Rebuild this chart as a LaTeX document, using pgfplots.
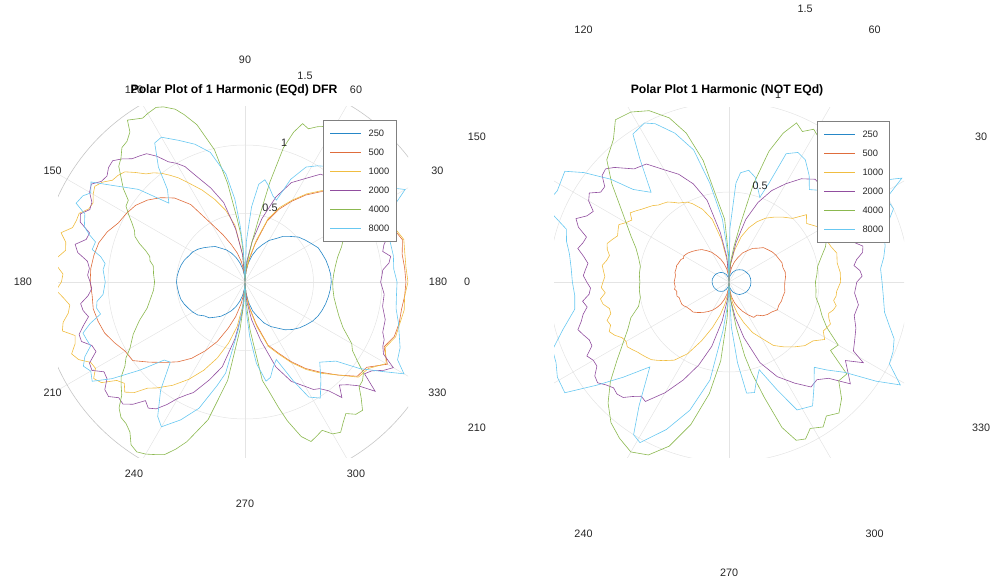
\documentclass[border=0pt]{standalone}
\usepackage{pgfplots}
\pgfplotsset{compat=1.18}
\usepackage{fontspec}
\setmainfont{Liberation Sans}

\definecolor{c250}{HTML}{0072BD}
\definecolor{c500}{HTML}{D95319}
\definecolor{c1k}{HTML}{EDB120}
\definecolor{c2k}{HTML}{7E2F8E}
\definecolor{c4k}{HTML}{77AC30}
\definecolor{c8k}{HTML}{4DBEEE}
\definecolor{gridc}{HTML}{E4E4E4}
\definecolor{rimc}{HTML}{C6C6C6}
\definecolor{txt}{HTML}{262626}

\newcommand\tickfont{\fontsize{10.8}{12}\selectfont}
\newcommand\titlefont{\fontsize{12.2}{14}\selectfont\bfseries}

\pgfplotsset{
  polarpanel/.style={
    scale only axis, width=350pt, height=350pt,
    anchor=south west, hide axis, clip=true,
    data cs=polar,
    legend cell align=left,
    legend image code/.code={\draw[##1,line width=0.9pt] (0pt,0pt) -- (31pt,0pt);},
    legend style={anchor=north west, draw=black!50, line width=0.5pt, fill=white,
      inner xsep=6.5pt, inner ysep=9.6pt, row sep=12.3pt, column sep=7pt,
      font=\fontsize{9.3}{10}\selectfont, text=txt,
      nodes={inner sep=0pt, text height=6.7pt, text depth=0pt}},
  },
  trace/.style={color=#1!85, line width=0.6pt, no markers},
}

\begin{document}
\begin{tikzpicture}
\useasboundingbox (0pt,0pt) rectangle (993pt,584pt);
\clip (0pt,0pt) rectangle (993pt,584pt);

% ---------------- left panel: equalised DFR ----------------
\begin{axis}[polarpanel, at={(58pt,127pt)},
  xmin=-1.365, xmax=1.190, ymin=-1.277, ymax=1.277,
  legend style={at={(0.757,0.963)}}]
  % polar grid
  \draw[gridc, line width=0.5pt] (axis cs:0,0) circle[radius=68.5pt];
  \draw[gridc, line width=0.5pt] (axis cs:0,0) circle[radius=137pt];
  \draw[rimc, line width=0.6pt] (axis cs:0,0) circle[radius=205.5pt];
  \draw[gridc, line width=0.5pt] (axis cs:-3,0) -- (axis cs:3,0);
  \draw[gridc, line width=0.5pt] (axis cs:0,-3) -- (axis cs:0,3);
  \draw[gridc, line width=0.5pt] (axis cs:-2.598,-1.5) -- (axis cs:2.598,1.5);
  \draw[gridc, line width=0.5pt] (axis cs:-1.5,-2.598) -- (axis cs:1.5,2.598);
  \draw[gridc, line width=0.5pt] (axis cs:1.5,-2.598) -- (axis cs:-1.5,2.598);
  \draw[gridc, line width=0.5pt] (axis cs:2.598,-1.5) -- (axis cs:-2.598,1.5);

  \addplot[trace=c250] coordinates {(0,.63)(5,.628)(10,.62)(15,.612)(20,.60)(25,.59)(30,.56)(35,.535)(40,.51)(45,.47)(50,.435)(55,.385)(60,.35)(65,.30)(70,.255)(75,.20)(80,.14)(85,.075)(90,.005)(95,.05)(100,.10)(105,.145)(110,.19)(115,.232)(120,.27)(125,.30)(130,.338)(135,.362)(140,.39)(145,.418)(150,.44)(155,.452)(160,.47)(165,.482)(170,.49)(175,.497)(180,.50)(185,.495)(190,.49)(195,.485)(200,.472)(205,.455)(210,.44)(215,.42)(220,.385)(225,.37)(230,.335)(235,.305)(240,.265)(245,.23)(250,.19)(255,.145)(260,.10)(265,.05)(270,.005)(275,.075)(280,.15)(285,.22)(290,.27)(295,.33)(300,.375)(305,.41)(310,.455)(315,.49)(320,.52)(325,.545)(330,.57)(335,.588)(340,.60)(345,.61)(350,.618)(355,.625)(360,.63)};
  \addplot[trace=c500] coordinates {(0,1.175)(5,1.17)(10,1.165)(15,1.19)(20,1.15)(25,1.13)(30,1.095)(35,1.06)(40,1.0)(45,.935)(50,.86)(55,.775)(60,.68)(65,.585)(70,.475)(75,.29)(80,.16)(85,.075)(90,.005)(95,.07)(100,.15)(105,.22)(110,.29)(115,.38)(120,.49)(125,.69)(130,.80)(135,.87)(140,.93)(145,.975)(150,1.0)(155,1.02)(160,1.07)(165,1.105)(170,1.12)(175,1.13)(180,1.13)(185,1.12)(190,1.125)(195,1.11)(200,1.09)(205,1.05)(210,1.01)(215,1.0)(220,.91)(225,.83)(230,.76)(235,.68)(240,.58)(245,.48)(250,.36)(255,.26)(260,.16)(265,.08)(270,.005)(275,.09)(280,.19)(285,.32)(290,.49)(295,.57)(300,.67)(305,.77)(310,.86)(315,.96)(320,1.07)(325,1.085)(330,1.20)(335,1.12)(340,1.16)(345,1.165)(350,1.16)(355,1.17)(360,1.175)};
  \addplot[trace=c1k] coordinates {(0,1.19)(5,1.18)(10,1.185)(15,1.20)(20,1.16)(25,1.14)(30,1.10)(35,1.07)(40,1.01)(45,.945)(50,.87)(55,.785)(60,.69)(65,.60)(70,.49)(75,.31)(80,.17)(85,.08)(90,.005)(95,.20)(100,.42)(105,.54)(110,.64)(115,.74)(120,.84)(122.5,.90)(125,.95)(127.5,1.0)(130,1.04)(132.5,1.07)(135,1.13)(137.5,1.19)(140,1.21)(142.5,1.22)(145,1.27)(147.5,1.30)(150,1.28)(152.5,1.25)(155,1.26)(157.5,1.31)(160,1.31)(162.5,1.32)(165,1.39)(167.5,1.34)(170,1.33)(172.5,1.38)(175,1.38)(177.5,1.33)(180,1.34)(182.5,1.38)(185,1.33)(187.5,1.29)(190,1.31)(192.5,1.36)(195,1.38)(197.5,1.30)(200,1.32)(202.5,1.37)(205,1.34)(207.5,1.27)(210,1.26)(212.5,1.31)(215,1.28)(217.5,1.18)(220,1.15)(222.5,1.19)(225,1.14)(227.5,1.05)(230,1.01)(235,.92)(240,.82)(245,.71)(250,.59)(255,.46)(260,.33)(265,.17)(270,.005)(275,.10)(280,.20)(285,.34)(290,.50)(295,.58)(300,.68)(305,.78)(310,.87)(315,.96)(320,1.08)(325,1.10)(330,1.19)(335,1.13)(340,1.17)(345,1.17)(350,1.18)(355,1.17)(360,1.19)};
  \addplot[trace=c2k] coordinates {(0,.99)(2.5,1.0)(5,1.01)(7.5,1.06)(10,1.08)(12.5,1.03)(15,1.05)(17.5,1.09)(20,1.08)(22.5,1.04)(25,1.05)(30,1.06)(35,1.03)(40,1.02)(45,1.0)(50,.99)(55,.96)(60,.87)(65,.80)(70,.66)(75,.48)(80,.30)(85,.15)(90,.005)(95,.20)(100,.39)(105,.60)(110,.73)(115,.86)(117.5,.95)(120,1.0)(122.5,1.04)(125,1.12)(127.5,1.18)(130,1.20)(132.5,1.22)(135,1.27)(137.5,1.31)(140,1.30)(142.5,1.27)(145,1.28)(147.5,1.33)(150,1.31)(152.5,1.26)(155,1.25)(157.5,1.30)(160,1.28)(162.5,1.19)(165,1.20)(167.5,1.27)(170,1.24)(172.5,1.16)(175,1.14)(177.5,1.15)(180,1.13)(182.5,1.12)(185,1.15)(187.5,1.21)(190,1.20)(192.5,1.17)(195,1.22)(197.5,1.27)(200,1.27)(202.5,1.21)(205,1.20)(207.5,1.28)(210,1.29)(212.5,1.22)(215,1.23)(217.5,1.29)(220,1.30)(222.5,1.25)(225,1.26)(227.5,1.21)(230,1.13)(232.5,1.16)(235,1.13)(237.5,1.06)(240,.98)(242.5,.93)(245,.89)(250,.76)(255,.64)(260,.42)(265,.22)(270,.005)(275,.14)(280,.28)(285,.44)(290,.66)(295,.80)(300,.88)(302.5,.93)(305,.95)(307.5,1.0)(310,1.10)(312.5,1.02)(315,1.06)(317.5,1.12)(320,1.24)(322.5,1.10)(325,1.13)(327.5,1.20)(330,1.25)(332.5,1.14)(335,1.11)(337.5,1.10)(340,1.07)(345,1.06)(350,1.02)(355,1.02)(360,.99)};
  \addplot[trace=c4k] coordinates {(0,.64)(5,.65)(10,.67)(15,.70)(20,.75)(25,.80)(30,.88)(35,.95)(40,1.03)(45,1.10)(50,1.17)(55,1.23)(57.5,1.22)(60,1.27)(62.5,1.28)(65,1.25)(67.5,1.21)(70,1.23)(72,1.15)(74,1.02)(76,.75)(78,.45)(80,.30)(85,.12)(90,.005)(93,.20)(95,.35)(97,.46)(100,.73)(103,.99)(107,1.20)(110,1.30)(112,1.36)(115,1.41)(117,1.43)(120,1.42)(122,1.41)(126,1.46)(127.5,1.38)(130,1.34)(132.5,1.33)(135,1.28)(137.5,1.25)(140,1.18)(142.5,1.12)(145,1.04)(147.5,1.03)(150,.98)(152.5,.93)(155,.89)(157.5,.87)(160,.82)(162.5,.76)(165,.72)(167.5,.71)(170,.68)(175,.67)(180,.66)(185,.67)(190,.70)(195,.74)(200,.82)(205,.90)(210,.97)(212.5,1.03)(215,1.07)(217.5,1.14)(220,1.18)(222.5,1.22)(225,1.30)(227.5,1.34)(230,1.35)(232.5,1.38)(235,1.45)(237.5,1.47)(240,1.45)(242.5,1.42)(245,1.39)(247.5,1.32)(250,1.24)(255,1.04)(260,.73)(264,.35)(267,.15)(270,.005)(273,.15)(276,.35)(280,.73)(282,.80)(285,.95)(287,1.06)(290,1.20)(292.5,1.26)(295,1.24)(297.5,1.22)(300,1.28)(302.5,1.30)(305,1.25)(307.5,1.21)(310,1.26)(312.5,1.27)(315,1.20)(317.5,1.13)(320,1.12)(322.5,1.09)(325,1.0)(327.5,.93)(330,.90)(335,.79)(340,.73)(345,.69)(350,.66)(355,.645)(360,.64)};
  \addplot[trace=c8k] coordinates {(0,1.11)(5,1.09)(10,1.10)(16,1.10)(20,1.12)(24,1.16)(27,1.22)(30,1.35)(32,1.29)(35,1.20)(40,1.15)(45,1.10)(50,1.05)(55,1.03)(58,1.0)(62,.95)(66,.82)(69,.64)(72,.66)(76,.72)(79,.76)(82,.72)(85,.55)(88,.30)(90,.005)(93,.25)(95,.42)(97,.61)(100,.80)(105,.98)(110,1.07)(115,1.14)(120,1.22)(123,1.21)(127,1.05)(130,.88)(134,.80)(139,1.03)(144,1.20)(147,1.34)(150,1.30)(152,1.34)(155,1.36)(157,1.27)(161,1.24)(163,1.19)(165,1.13)(168,1.14)(170,1.07)(172.5,1.03)(175,1.04)(180,1.02)(185,1.04)(187.5,1.09)(190,1.10)(192.5,1.08)(195,1.17)(197.5,1.24)(200,1.23)(202.5,1.22)(205,1.29)(207.5,1.33)(210,1.30)(213,1.33)(216,1.20)(220,1.0)(224,.82)(227,.80)(232,1.0)(237,1.17)(240,1.22)(245,1.11)(250,.98)(255,.78)(258,.68)(262,.35)(266,.15)(270,.005)(272,.20)(275,.40)(278,.60)(282,.74)(285,.72)(288,.66)(292,.61)(296,.80)(299,.96)(303,1.01)(308,.90)(313,.80)(319,.88)(323,1.05)(327,1.20)(330,1.34)(333,1.25)(337,1.23)(340,1.20)(345,1.16)(350,1.12)(355,1.11)(360,1.11)};
  \legend{250,500,1000,2000,4000,8000}
\end{axis}

% ---------------- right panel: raw (not equalised) ----------------
\begin{axis}[polarpanel, at={(554pt,127pt)},
  xmin=-0.972, xmax=0.972, ymin=-0.972, ymax=0.972,
  legend style={at={(0.751,0.96)}}]
  \draw[gridc, line width=0.5pt] (axis cs:0,0) circle[radius=90pt];
  \draw[gridc, line width=0.5pt] (axis cs:0,0) circle[radius=180pt];
  \draw[gridc, line width=0.5pt] (axis cs:-3,0) -- (axis cs:3,0);
  \draw[gridc, line width=0.5pt] (axis cs:0,-3) -- (axis cs:0,3);
  \draw[gridc, line width=0.5pt] (axis cs:-2.598,-1.5) -- (axis cs:2.598,1.5);
  \draw[gridc, line width=0.5pt] (axis cs:-1.5,-2.598) -- (axis cs:1.5,2.598);
  \draw[gridc, line width=0.5pt] (axis cs:1.5,-2.598) -- (axis cs:-1.5,2.598);
  \draw[gridc, line width=0.5pt] (axis cs:2.598,-1.5) -- (axis cs:-2.598,1.5);

  \addplot[trace=c250] coordinates {(0,.122)(10,.121)(20,.118)(30,.110)(40,.103)(50,.089)(60,.076)(70,.057)(80,.036)(85,.022)(90,.002)(95,.016)(100,.028)(110,.045)(120,.058)(130,.070)(140,.078)(150,.086)(160,.090)(170,.094)(180,.094)(190,.092)(200,.089)(210,.083)(220,.078)(230,.068)(240,.058)(250,.043)(260,.027)(265,.016)(270,.002)(275,.022)(280,.036)(290,.058)(300,.075)(310,.091)(320,.101)(330,.111)(340,.117)(350,.121)(360,.122)};
  \addplot[trace=c500] coordinates {(0,.31)(5,.315)(10,.317)(15,.31)(20,.313)(25,.305)(30,.30)(35,.292)(40,.28)(45,.27)(50,.245)(55,.228)(60,.20)(65,.178)(70,.145)(75,.115)(80,.08)(85,.045)(90,.003)(95,.04)(100,.075)(105,.105)(110,.135)(115,.16)(120,.19)(125,.212)(130,.235)(135,.25)(140,.265)(145,.28)(150,.29)(152.5,.285)(155,.295)(160,.30)(162.5,.305)(165,.303)(170,.305)(172.5,.30)(175,.30)(180,.305)(185,.30)(187.5,.305)(190,.295)(195,.30)(197.5,.29)(200,.29)(205,.29)(207.5,.285)(210,.275)(215,.265)(220,.26)(225,.24)(230,.22)(235,.20)(240,.18)(245,.155)(250,.13)(255,.10)(260,.07)(265,.04)(270,.003)(275,.045)(280,.085)(285,.12)(290,.15)(295,.18)(300,.21)(305,.24)(310,.24)(315,.265)(320,.28)(325,.29)(330,.31)(335,.305)(340,.31)(345,.31)(350,.315)(355,.31)(360,.31)};
  \addplot[trace=c1k] coordinates {(0,.62)(5,.62)(10,.61)(15,.62)(19,.60)(23,.59)(28,.575)(32,.58)(37,.54)(41,.57)(45,.50)(50,.47)(55,.44)(60,.41)(65,.37)(70,.32)(75,.26)(80,.18)(85,.10)(90,.003)(95,.12)(100,.24)(105,.36)(110,.43)(115,.48)(117.5,.50)(120,.51)(122.5,.52)(125,.54)(127.5,.56)(130,.57)(132.5,.58)(135,.60)(140,.63)(142.5,.65)(145,.67)(147.5,.64)(150,.66)(152.5,.69)(155,.68)(157.5,.67)(160,.69)(162.5,.71)(165,.70)(167.5,.68)(170,.69)(172.5,.71)(175,.70)(177.5,.69)(180,.70)(182.5,.71)(185,.69)(187.5,.72)(190,.71)(192.5,.68)(195,.68)(197.5,.71)(200,.70)(202.5,.72)(205,.70)(207.5,.67)(210,.66)(212.5,.67)(215,.655)(217.5,.64)(220,.63)(222.5,.62)(225,.61)(227.5,.59)(230,.57)(235,.53)(240,.46)(245,.36)(250,.27)(255,.19)(260,.12)(265,.06)(270,.003)(275,.06)(280,.12)(285,.18)(290,.24)(295,.31)(300,.36)(305,.43)(310,.47)(315,.51)(320,.55)(325,.57)(329,.62)(332.5,.59)(335,.60)(337.5,.61)(340,.59)(342.5,.58)(345,.60)(347.5,.61)(350,.59)(352.5,.60)(355,.60)(360,.62)};
  \addplot[trace=c2k] coordinates {(0,.71)(2.5,.74)(5,.73)(7.5,.70)(10,.72)(12.5,.76)(15,.77)(17.5,.73)(20,.74)(22.5,.78)(25,.78)(27.5,.74)(30,.75)(32.5,.78)(35,.77)(37.5,.75)(40,.74)(42.5,.77)(45,.76)(47.5,.74)(50,.745)(55,.70)(60,.63)(65,.56)(70,.47)(75,.36)(80,.22)(85,.10)(90,.003)(95,.14)(100,.28)(105,.47)(110,.58)(115,.66)(120,.72)(125,.80)(130,.82)(135,.90)(137.5,.93)(140,.92)(142.5,.87)(145,.87)(147.5,.92)(150,.90)(152.5,.85)(155,.87)(157.5,.92)(160,.89)(162.5,.83)(165,.84)(167.5,.86)(170,.82)(172.5,.79)(175,.80)(177.5,.81)(180,.79)(182.5,.77)(185,.78)(187.5,.82)(190,.80)(192.5,.83)(195,.85)(197.5,.88)(200,.86)(202.5,.84)(205,.84)(207.5,.89)(210,.87)(212.5,.87)(215,.91)(217.5,.92)(220,.89)(222.5,.87)(225,.88)(227.5,.87)(230,.83)(232.5,.80)(235,.81)(240,.71)(245,.60)(250,.49)(255,.37)(260,.22)(265,.10)(270,.003)(275,.10)(280,.20)(285,.32)(291,.48)(297,.59)(303,.67)(308,.74)(312,.73)(316,.77)(320,.88)(326,.78)(329,.87)(331,.79)(335,.77)(340,.75)(345,.72)(350,.73)(355,.70)(360,.71)};
  \addplot[trace=c4k] coordinates {(0,.48)(5,.49)(10,.50)(15,.53)(20,.57)(25,.60)(30,.64)(35,.68)(40,.73)(45,.80)(50,.86)(55,.92)(61,.97)(64,.93)(67,.96)(70,.88)(73,.76)(76,.56)(79,.32)(82,.20)(85,.12)(88,.06)(90,.003)(91,.15)(94,.35)(98,.46)(102,.69)(106,.86)(110,.97)(115,1.05)(120,1.09)(125,1.10)(129,1.02)(135,.96)(140,.85)(145,.74)(150,.66)(155,.60)(160,.55)(165,.52)(170,.50)(175,.50)(180,.495)(185,.50)(190,.50)(195,.52)(200,.58)(205,.62)(210,.68)(215,.76)(220,.86)(225,.95)(230,1.02)(235,1.06)(240,1.09)(245,1.06)(250,.97)(255,.82)(260,.63)(264,.44)(267,.20)(270,.003)(275,.10)(279,.25)(282,.42)(284,.52)(287,.67)(290,.86)(293,.955)(296,.97)(299,.93)(303,.96)(306,.92)(310,.95)(314,.90)(318,.82)(322,.83)(326,.68)(330,.70)(335,.60)(340,.55)(345,.52)(350,.49)(355,.485)(360,.48)};
  \addplot[trace=c8k] coordinates {(0,.85)(5,.845)(9,.87)(13,.89)(17,.90)(21,.95)(24,1.0)(28,.99)(31,1.12)(32,1.08)(35,.97)(40,.82)(45,.72)(49,.68)(53,.74)(58,.80)(62,.815)(66,.78)(68,.59)(70,.50)(72,.53)(76,.60)(80,.63)(84,.61)(86,.55)(89,.30)(90,.003)(92,.15)(96,.35)(101,.56)(105,.76)(110,.88)(115,.97)(118,1.0)(123,.98)(126,.84)(131,.66)(136,.74)(139,.87)(143,1.01)(146,1.10)(152,1.08)(156,1.10)(159,1.05)(162,.95)(166,.93)(170,.90)(175,.88)(180,.87)(185,.86)(190,.87)(196,.96)(201,1.05)(205,1.06)(209,1.09)(214,1.10)(218,.93)(222,.79)(227,.645)(234,.85)(238,1.0)(241,1.02)(247,.89)(253,.745)(259,.555)(263,.27)(267,.12)(270,.003)(273,.25)(276,.45)(279,.625)(283,.63)(285,.58)(289,.515)(294,.655)(298,.805)(304,.83)(309,.75)(315,.67)(318,.73)(322,.815)(326,.985)(329,1.11)(333,1.0)(337,.99)(341,.97)(345,.92)(349,.88)(355,.86)(360,.85)};
  \legend{250,500,1000,2000,4000,8000}
\end{axis}

% angle labels of both panels
\begin{scope}[shift={(245pt,302pt)}, font=\tickfont, text=txt]
  \foreach \a in {0,30,...,330} \node at (\a:222pt) {\a};
\end{scope}
\begin{scope}[shift={(729pt,302pt)}, font=\tickfont, text=txt]
  \foreach \a in {30,60,120,150,180,210,240,270,300,330} \node at (\a:291pt) {\a};
\end{scope}

% titles
\node[font=\titlefont, text=black] at (234pt,494pt) {Polar Plot of 1 Harmonic (EQd) DFR};
\node[font=\titlefont, text=black] at (727pt,494pt) {Polar Plot 1 Harmonic (NOT EQd)};

% radius labels
\begin{scope}[font=\tickfont, text=txt]
  \node at (270pt,376pt) {0.5};
  \node at (284pt,441pt) {1};
  \node at (305pt,508pt) {1.5};
  \node at (760pt,398pt) {0.5};
  \node at (778pt,489pt) {1};
  \node at (805pt,575pt) {1.5};
\end{scope}
\end{tikzpicture}
\end{document}
